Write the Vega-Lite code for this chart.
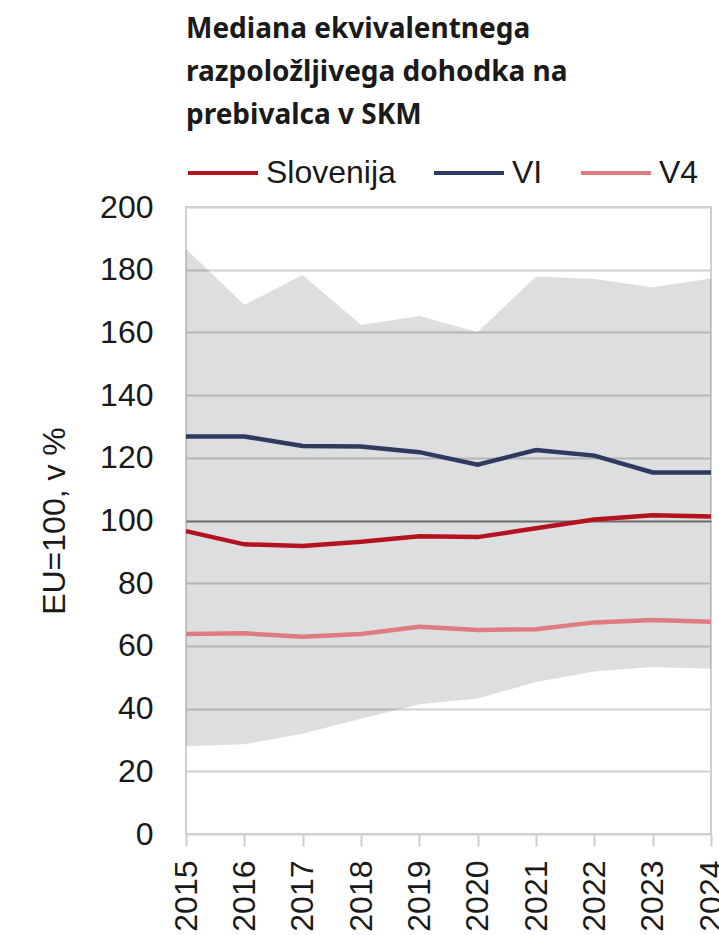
{
  "$schema": "https://vega.github.io/schema/vega-lite/v6.json",
  "width": 525,
  "height": 627,
  "padding": {"left": 38, "top": 16, "right": 9, "bottom": 0},
  "background": "white",
  "title": {
    "text": ["Mediana ekvivalentnega", "razpoložljivega dohodka na", "prebivalca v SKM"],
    "anchor": "start",
    "frame": "group",
    "font": "Noto Sans",
    "fontSize": 28,
    "fontWeight": 700,
    "lineHeight": 43,
    "color": "#1a1a1a",
    "offset": 6
  },
  "datasets": {
    "band": [
      {"year": "2015", "lo": 28.0, "hi": 186.6},
      {"year": "2016", "lo": 28.6, "hi": 168.8},
      {"year": "2017", "lo": 32.0, "hi": 178.3},
      {"year": "2018", "lo": 36.8, "hi": 162.4},
      {"year": "2019", "lo": 41.4, "hi": 165.2},
      {"year": "2020", "lo": 43.2, "hi": 160.1},
      {"year": "2021", "lo": 48.5, "hi": 177.8},
      {"year": "2022", "lo": 51.8, "hi": 177.0},
      {"year": "2023", "lo": 53.3, "hi": 174.4},
      {"year": "2024", "lo": 52.7, "hi": 177.2}
    ],
    "lines": [
      {"year": "2015", "series": "Slovenija", "value": 96.6},
      {"year": "2016", "series": "Slovenija", "value": 92.4},
      {"year": "2017", "series": "Slovenija", "value": 91.9},
      {"year": "2018", "series": "Slovenija", "value": 93.2},
      {"year": "2019", "series": "Slovenija", "value": 95.0},
      {"year": "2020", "series": "Slovenija", "value": 94.7},
      {"year": "2021", "series": "Slovenija", "value": 97.5},
      {"year": "2022", "series": "Slovenija", "value": 100.3},
      {"year": "2023", "series": "Slovenija", "value": 101.7},
      {"year": "2024", "series": "Slovenija", "value": 101.3},
      {"year": "2015", "series": "VI", "value": 126.8},
      {"year": "2016", "series": "VI", "value": 126.8},
      {"year": "2017", "series": "VI", "value": 123.8},
      {"year": "2018", "series": "VI", "value": 123.6},
      {"year": "2019", "series": "VI", "value": 121.8},
      {"year": "2020", "series": "VI", "value": 117.8},
      {"year": "2021", "series": "VI", "value": 122.5},
      {"year": "2022", "series": "VI", "value": 120.7},
      {"year": "2023", "series": "VI", "value": 115.3},
      {"year": "2024", "series": "VI", "value": 115.3},
      {"year": "2015", "series": "V4", "value": 63.8},
      {"year": "2016", "series": "V4", "value": 64.0},
      {"year": "2017", "series": "V4", "value": 62.9},
      {"year": "2018", "series": "V4", "value": 63.8},
      {"year": "2019", "series": "V4", "value": 66.1},
      {"year": "2020", "series": "V4", "value": 65.1},
      {"year": "2021", "series": "V4", "value": 65.3},
      {"year": "2022", "series": "V4", "value": 67.5},
      {"year": "2023", "series": "V4", "value": 68.3},
      {"year": "2024", "series": "V4", "value": 67.7}
    ]
  },
  "encoding": {
    "x": {
      "field": "year",
      "type": "ordinal",
      "scale": {"type": "point", "padding": 0},
      "axis": {
        "title": null,
        "labelAngle": -90,
        "labelAlign": "right",
        "labelBaseline": "middle",
        "labelFont": "Liberation Sans",
        "labelFontSize": 32,
        "labelColor": "#1a1a1a",
        "labelPadding": 14,
        "tickSize": 12,
        "tickWidth": 2,
        "tickColor": "#cfcfcf",
        "domain": false,
        "grid": false
      }
    }
  },
  "layer": [
    {
      "data": {"name": "band"},
      "mark": {"type": "area", "fill": "#10121a", "fillOpacity": 0.14},
      "encoding": {
        "y": {
          "field": "lo",
          "type": "quantitative",
          "scale": {"domain": [0, 200], "nice": false},
          "axis": {
            "title": "EU=100, v %",
            "titleFont": "Liberation Sans",
            "titleFontSize": 32,
            "titleFontWeight": "normal",
            "titleColor": "#1a1a1a",
            "titlePadding": 28,
            "values": [0, 20, 40, 60, 80, 100, 120, 140, 160, 180, 200],
            "labelFont": "Liberation Sans",
            "labelFontSize": 32,
            "labelColor": "#1a1a1a",
            "labelPadding": 33,
            "ticks": false,
            "domain": false,
            "grid": true,
            "gridWidth": 2,
            "gridColor": {"condition": {"test": "datum.value === 100", "value": "#7a7a7a"}, "value": "#d0d0d0"}
          }
        },
        "y2": {"field": "hi"}
      }
    },
    {
      "data": {"name": "lines"},
      "mark": {"type": "line", "strokeWidth": 4.5},
      "encoding": {
        "y": {"field": "value", "type": "quantitative"},
        "color": {
          "field": "series",
          "type": "nominal",
          "sort": ["Slovenija", "VI", "V4"],
          "scale": {"domain": ["Slovenija", "VI", "V4"], "range": ["#b5121f", "#2e3a5e", "#e07b80"]},
          "legend": {
            "title": null,
            "orient": "top",
            "direction": "horizontal",
            "symbolType": "stroke",
            "symbolSize": 4900,
            "symbolStrokeWidth": 4,
            "labelFont": "Liberation Sans",
            "labelFontSize": 32,
            "labelColor": "#1a1a1a",
            "labelOffset": 6,
            "columnPadding": 30,
            "offset": 18
          }
        }
      }
    }
  ],
  "config": {
    "view": {"stroke": "#cfcfcf", "strokeWidth": 2}
  }
}
